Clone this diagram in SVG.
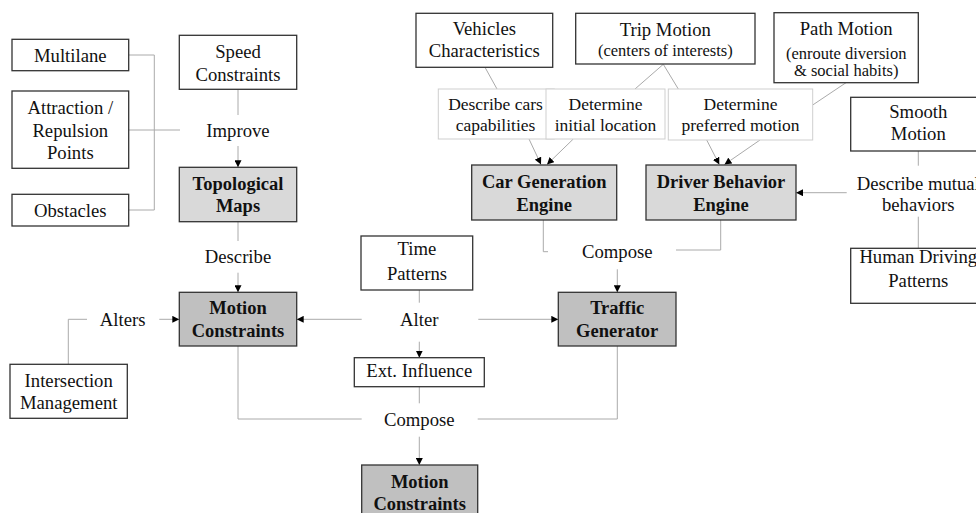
<svg xmlns="http://www.w3.org/2000/svg" width="976" height="513" viewBox="0 0 976 513">
<defs>
<marker id="ah" markerWidth="7" markerHeight="7" refX="7" refY="3.5" orient="auto" markerUnits="userSpaceOnUse">
<path d="M0,0 L7,3.5 L0,7 z" fill="#000"/>
</marker>
<style>
text{font-family:"Liberation Serif","Times New Roman",serif;font-size:18.7px;fill:#111;text-anchor:middle}
.b{font-weight:bold;font-size:18.5px}
.s{font-size:16.5px}
.l{font-size:17.5px}
.box{fill:#fff;stroke:#333;stroke-width:1.3}
.lbox{fill:#fff;stroke:#cfcfcf;stroke-width:1}
.g1{fill:#d9d9d9;stroke:#333;stroke-width:1.3}
.g2{fill:#c0c0c0;stroke:#333;stroke-width:1.3}
.c{fill:none;stroke:#aaa;stroke-width:1}
.a{fill:none;stroke:#aaa;stroke-width:1;marker-end:url(#ah)}
</style>
</defs>
<rect width="976" height="513" fill="#fff"/>

<g id="connectors">
<polyline class="c" points="128.7,55 154.3,55 154.3,210 128.7,210"/>
<line class="c" x1="128.7" y1="130" x2="180" y2="130"/>
<line class="c" x1="238" y1="89.3" x2="238" y2="115"/>
<line class="a" x1="238" y1="146" x2="238" y2="167.3"/>
<line class="c" x1="238" y1="221.7" x2="238" y2="241"/>
<line class="a" x1="238" y1="272.7" x2="238" y2="292.3"/>
<polyline class="c" points="68.3,364.3 68.3,319.3 87,319.3"/>
<line class="a" x1="159.3" y1="319.3" x2="179.3" y2="319.3"/>
<line class="c" x1="419.3" y1="290" x2="419.3" y2="302.7"/>
<line class="a" x1="361.7" y1="319.3" x2="296.7" y2="319.3"/>
<line class="a" x1="478.3" y1="319.3" x2="558.3" y2="319.3"/>
<line class="a" x1="419.3" y1="341.7" x2="419.3" y2="357.7"/>
<line class="c" x1="419.3" y1="386.7" x2="419.3" y2="403.3"/>
<polyline class="c" points="238,346 238,419 361.7,419"/>
<polyline class="c" points="477.7,419 617.3,419 617.3,346"/>
<line class="a" x1="419.3" y1="436.7" x2="419.3" y2="465"/>
<polyline class="c" points="543.3,220 543.3,251.7 548,251.7"/>
<polyline class="c" points="720.7,220 720.7,250 676,250"/>
<line class="a" x1="617.3" y1="269.3" x2="617.3" y2="292.3"/>
<line class="c" x1="485" y1="67.3" x2="497" y2="89"/>
<line class="c" x1="663.3" y1="64.3" x2="635" y2="89"/>
<line class="c" x1="663.3" y1="64.3" x2="678.3" y2="89"/>
<line class="c" x1="846" y1="82.7" x2="812.7" y2="105"/>
<line class="a" x1="529" y1="139" x2="541" y2="164.5"/>
<line class="a" x1="573.3" y1="139" x2="547" y2="164.5"/>
<line class="a" x1="706.7" y1="140" x2="719.3" y2="164.5"/>
<line class="a" x1="760" y1="140" x2="724.5" y2="164.5"/>
<line class="c" x1="918.3" y1="151" x2="918.3" y2="165.7"/>
<line class="c" x1="918.3" y1="216.7" x2="918.3" y2="248.3"/>
<line class="a" x1="846.7" y1="192.7" x2="796" y2="192.7"/>
</g>

<g id="multilane"><rect class="box" x="12" y="39.3" width="116.7" height="31.4"/><text x="70.3" y="62">Multilane</text></g>
<g id="attraction"><rect class="box" x="12" y="91" width="116.7" height="77.3"/><text x="70.3" y="114.3">Attraction /</text><text x="70.3" y="136.7">Repulsion</text><text x="70.3" y="159">Points</text></g>
<g id="obstacles"><rect class="box" x="12" y="194.3" width="116.7" height="31.7"/><text x="70.3" y="216.7">Obstacles</text></g>
<g id="speed"><rect class="box" x="179.3" y="35.3" width="117.4" height="54"/><text x="238" y="58.3">Speed</text><text x="238" y="80.7">Constraints</text></g>
<g id="improve"><text x="238" y="136.7">Improve</text></g>
<g id="topo"><rect class="g1" x="179.3" y="167.3" width="117.4" height="54.4"/><text class="b" x="238" y="190">Topological</text><text class="b" x="238" y="212.3">Maps</text></g>
<g id="describe"><text x="238" y="263.3">Describe</text></g>
<g id="motion1"><rect class="g2" x="179.3" y="292.3" width="117.4" height="53.7"/><text class="b" x="238" y="314.3">Motion</text><text class="b" x="238" y="336.7">Constraints</text></g>
<g id="alters"><text x="122.7" y="326">Alters</text></g>
<g id="intersection"><rect class="box" x="10" y="364.3" width="117.3" height="54"/><text x="68.7" y="386.7">Intersection</text><text x="68.7" y="409">Management</text></g>
<g id="time"><rect class="box" x="361" y="236" width="111.7" height="54"/><text x="417" y="255">Time</text><text x="417" y="280">Patterns</text></g>
<g id="alter"><text x="419.3" y="326">Alter</text></g>
<g id="ext"><rect class="box" x="354.3" y="357.7" width="130" height="29"/><text x="419.3" y="376.7">Ext. Influence</text></g>
<g id="compose2"><text x="419.3" y="426">Compose</text></g>
<g id="motion2"><rect class="g2" x="361.7" y="465" width="116" height="56"/><text class="b" x="419.7" y="487.7">Motion</text><text class="b" x="419.7" y="510">Constraints</text></g>
<g id="traffic"><rect class="g2" x="558.3" y="292.3" width="117.7" height="53.7"/><text class="b" x="617.2" y="314.3">Traffic</text><text class="b" x="617.2" y="336.7">Generator</text></g>
<g id="compose1"><text x="617.3" y="258.3">Compose</text></g>
<g id="vehicles"><rect class="box" x="416" y="13.3" width="136.7" height="54"/><text x="484.3" y="35">Vehicles</text><text x="484.3" y="57.3">Characteristics</text></g>
<g id="trip"><rect class="box" x="575.7" y="13.3" width="179.3" height="50.7"/><text x="665.3" y="36">Trip Motion</text><text class="s" x="665.3" y="56">(centers of interests)</text></g>
<g id="path"><rect class="box" x="774" y="12.7" width="144.3" height="70"/><text x="846.2" y="35">Path Motion</text><text class="s" x="846.2" y="59.3">(enroute diversion</text><text class="s" x="846.2" y="76">&amp; social habits)</text></g>
<g id="lbl-cars"><rect class="lbox" x="438.3" y="89" width="116" height="50"/><text class="l" x="495.5" y="110">Describe cars</text><text class="l" x="495.5" y="130.7">capabilities</text></g>
<g id="lbl-initial"><rect class="lbox" x="546" y="89" width="119" height="50"/><text class="l" x="605.5" y="110">Determine</text><text class="l" x="605.5" y="130.7">initial location</text></g>
<g id="lbl-preferred"><rect class="lbox" x="668.3" y="89" width="144.4" height="51"/><text class="l" x="740.5" y="110">Determine</text><text class="l" x="740.5" y="130.7">preferred motion</text></g>
<g id="cargen"><rect class="g1" x="471.7" y="165" width="145" height="55"/><text class="b" x="544.2" y="188.3">Car Generation</text><text class="b" x="544.2" y="210.7">Engine</text></g>
<g id="driver"><rect class="g1" x="646" y="165" width="150" height="55"/><text class="b" x="721" y="188.3">Driver Behavior</text><text class="b" x="721" y="210.7">Engine</text></g>
<g id="smooth"><rect class="box" x="850.7" y="97.3" width="135" height="53.7"/><text x="918.3" y="118.3">Smooth</text><text x="918.3" y="140">Motion</text></g>
<g id="mutual"><text x="918.3" y="190">Describe mutual</text><text x="918.3" y="211">behaviors</text></g>
<g id="human"><rect class="box" x="850.7" y="248.3" width="140" height="55"/><text x="918.3" y="263.3" dy="0">Human Driving</text><text x="918.3" y="286.7">Patterns</text></g>
</svg>
